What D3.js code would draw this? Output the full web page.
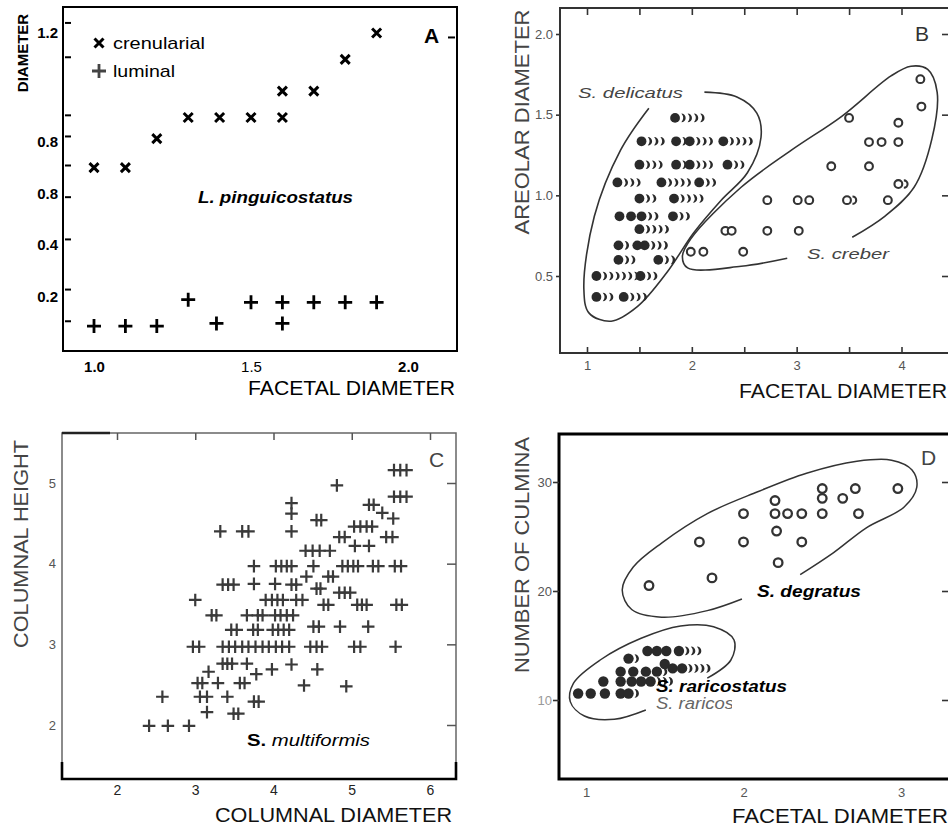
<!DOCTYPE html>
<html><head><meta charset="utf-8">
<script src="https://cdn.jsdelivr.net/npm/d3@7"></script>
<style>body{margin:0;background:#fff} svg{display:block}</style>
</head><body><svg id="c" width="948" height="829"></svg>
<script>
// ---------------- DATA ----------------
// Panel A  (L. pinguicostatus)
const aFacetal      = [1.0,1.1,1.2,1.3,1.4,1.5,1.6,1.6,1.7,1.8,1.9];
const aCrenularial  = [0.69,0.69,0.80,0.88,0.88,0.88,0.88,0.98,0.98,1.10,1.20];
const aLuminalX     = [1.0,1.1,1.2,1.3,1.39,1.5,1.6,1.6,1.7,1.8,1.9];
const aLuminal      = [0.09,0.09,0.09,0.19,0.10,0.18,0.18,0.10,0.18,0.18,0.18];
const aXTickValues  = [1.0,1.5,2.0];
const aXTickLabels  = ["1.0","1.5","2.0"];
const aYTickMarks   = [1.24,1.11,0.89,0.81,0.70,0.58,0.42,0.23,0.11];
const aYLabelValues = [1.2,0.79,0.59,0.4,0.2];
const aYLabels      = ["1.2","0.8","0.8","0.4","0.2"];

// Panel B  [facetal, areolar, trailing smear count]
const bDelicatus = [
  [1.84,1.48,4],
  [1.52,1.335,3],[1.85,1.335,1],[1.98,1.335,3],[2.30,1.335,4],
  [1.50,1.19,3],[1.85,1.19,1],[1.98,1.19,3],[2.34,1.19,2],
  [1.29,1.08,3],[1.71,1.08,4],[2.07,1.08,2],
  [1.50,0.98,2],[1.83,0.98,4],
  [1.31,0.87,0],[1.42,0.87,0],[1.52,0.87,2],[1.82,0.87,2],
  [1.50,0.79,4],
  [1.30,0.69,1],[1.48,0.69,0],[1.55,0.69,3],
  [1.30,0.60,2],[1.68,0.60,2],
  [1.09,0.50,6],[1.51,0.50,2],
  [1.09,0.37,2],[1.35,0.37,3]
];
const bCreber = [
  [1.99,0.65,0],[2.11,0.65,0],[2.49,0.65,0],
  [2.32,0.78,0],[2.38,0.78,0],[2.72,0.78,0],[3.02,0.78,0],
  [2.72,0.97,0],[3.01,0.97,0],[3.12,0.97,0],[3.48,0.97,1],[3.87,0.97,0],
  [3.97,1.07,1],[3.33,1.18,0],[3.69,1.18,0],
  [3.69,1.33,0],[3.81,1.33,0],[3.97,1.33,0],
  [3.97,1.45,0],[3.50,1.48,0],[4.19,1.55,0],[4.18,1.72,0]
];
const bDelicatusOutline = [[1.59,1.54],[1.32,1.28],[1.07,0.87],[0.97,0.42],[1.02,0.27],[1.23,0.22],[1.48,0.31],
  [1.76,0.52],[2.02,0.77],[2.28,0.97],[2.53,1.14],[2.66,1.36],[2.62,1.51],[2.43,1.61],[2.12,1.64]];
const bCreberOutline = [[2.91,0.61],[2.47,0.56],[1.96,0.55],[1.91,0.62],[1.99,0.73],[2.47,1.05],[2.95,1.28],
  [3.43,1.49],[3.90,1.74],[4.09,1.80],[4.25,1.78],[4.34,1.64],[4.29,1.35],[4.12,1.05],[3.84,0.87],[3.53,0.74]];
const bXTicks = [1,1.5,2,2.5,3,3.5,4];
const bXLabels = [1,2,3,4];
const bYTicks = [0.5,1.0,1.5,2.0];

// Panel C  [columnal diameter, columnal height]
const cMultiformis = [
  [5.54,5.16],[5.62,5.16],[5.70,5.16],[4.81,4.97],[5.54,4.83],[5.62,4.83],[5.70,4.83],
  [4.23,4.75],[5.22,4.73],[5.28,4.73],[4.23,4.62],[5.39,4.63],[5.53,4.56],[4.55,4.54],[4.61,4.54],
  [5.03,4.46],[5.11,4.46],[5.19,4.46],[5.26,4.46],
  [3.32,4.40],[3.60,4.40],[3.68,4.40],[4.23,4.40],
  [4.84,4.33],[4.91,4.33],[5.44,4.33],[5.52,4.33],[5.04,4.22],[5.22,4.22],
  [4.41,4.16],[4.50,4.16],[4.59,4.16],[4.72,4.16],
  [3.75,3.97],[4.03,3.97],[4.10,3.97],[4.17,3.97],[4.23,3.97],[4.51,3.97],[4.88,3.97],[4.95,3.97],
  [5.02,3.97],[5.08,3.97],[5.27,3.97],[5.34,3.97],[5.55,3.97],[5.63,3.97],
  [4.42,3.84],[4.70,3.84],[4.76,3.84],
  [3.35,3.74],[3.42,3.74],[3.49,3.74],[3.75,3.75],[4.02,3.75],[4.23,3.74],[4.29,3.74],
  [4.55,3.69],[4.60,3.69],[4.84,3.64],[4.91,3.64],[4.98,3.64],
  [3.00,3.55],[3.90,3.55],[3.98,3.55],[4.05,3.55],[4.12,3.55],[4.29,3.55],[4.37,3.55],
  [4.64,3.49],[4.70,3.49],[5.07,3.49],[5.13,3.49],[5.19,3.49],[5.57,3.49],[5.64,3.49],
  [3.21,3.36],[3.27,3.36],[3.66,3.36],[3.80,3.36],[3.86,3.36],[4.02,3.36],[4.09,3.36],[4.17,3.36],[4.25,3.36],
  [4.51,3.22],[4.58,3.22],[4.85,3.22],[5.21,3.22],
  [3.46,3.18],[3.53,3.18],[3.74,3.18],[3.80,3.18],[3.99,3.18],[4.06,3.18],[4.13,3.18],[4.20,3.18],
  [2.97,2.97],[3.05,2.97],[3.35,2.97],[3.43,2.97],[3.51,2.97],[3.60,2.97],[3.68,2.97],[3.77,2.97],
  [3.86,2.97],[3.94,2.97],[4.03,2.97],[4.11,2.97],[4.20,2.97],[4.47,2.97],[4.55,2.97],[4.62,2.97],
  [5.03,2.97],[5.11,2.97],[5.56,2.97],
  [3.35,2.76],[3.41,2.76],[3.47,2.76],[3.66,2.76],[4.23,2.75],[3.98,2.69],[4.56,2.69],[3.17,2.66],[3.78,2.63],
  [3.03,2.52],[3.09,2.52],[3.29,2.52],[3.57,2.52],[3.63,2.52],[4.39,2.49],[4.93,2.48],
  [2.58,2.35],[3.06,2.35],[3.15,2.35],[3.41,2.35],[3.75,2.29],[3.81,2.29],
  [3.15,2.16],[3.49,2.14],[3.55,2.14],
  [2.41,1.99],[2.65,1.99],[2.92,1.99]
];
const cXTicks = [2,3,4,5,6];
const cYTicks = [2,3,4,5];

// Panel D
const dDegratus = [
  [1.40,20.5],[1.72,24.5],[1.80,21.2],[2.00,27.1],[2.00,24.5],[2.20,28.3],[2.20,27.1],[2.28,27.1],
  [2.37,27.1],[2.21,25.5],[2.37,24.5],[2.22,22.6],[2.50,29.4],[2.50,28.5],[2.50,27.1],[2.63,28.5],
  [2.71,29.4],[2.73,27.1],[2.98,29.4]
];
const dRaricostatus = [
  [1.39,14.5,0],[1.45,14.5,0],[1.51,14.5,0],[1.59,14.5,3],
  [1.27,13.8,1],[1.50,13.3,0],[1.55,12.9,0],[1.61,12.9,4],
  [1.22,12.6,0],[1.30,12.6,0],[1.38,12.6,0],[1.45,12.6,1],
  [1.11,11.7,0],[1.22,11.7,0],[1.29,11.7,0],[1.35,11.7,0],[1.41,11.7,3],
  [0.95,10.6,0],[1.03,10.6,0],[1.12,10.6,0],[1.22,10.6,0],[1.27,10.6,1]
];
const dDegratusOutline = [[1.99,19.27],[1.77,18.2],[1.48,17.6],[1.29,18.3],[1.23,20.1],[1.30,22.2],[1.48,24.4],
  [1.77,27.1],[2.09,29.1],[2.40,30.8],[2.72,31.9],[2.94,32.0],[3.07,31.1],[3.10,29.5],[3.02,27.7],
  [2.78,25.8],[2.57,23.5],[2.36,21.5]];
const dRaricostatusOutline = [[1.38,9.08],[1.18,8.23],[0.99,8.53],[0.90,9.85],[0.92,11.53],[1.09,13.67],
  [1.35,15.66],[1.60,16.79],[1.81,16.72],[1.94,15.50],[1.92,13.67],[1.77,12.0]];
const dXTicks = [1,2,3];
const dYTicks = [10,20,30];

// ---------------- DRAWING ----------------
const FONT = '"Liberation Sans", Arial, Helvetica, sans-serif';
const svg = d3.select("#c");
svg.append("rect").attr("width",948).attr("height",829).attr("fill","#fff");

function txt(g, x, y, s, o = {}) {
  const t = g.append("text").attr("x", x).attr("y", y).text(s)
    .attr("font-family", FONT)
    .attr("font-size", o.size || 13).attr("fill", o.fill || "#000")
    .attr("font-weight", o.weight || "normal").attr("font-style", o.style || "normal")
    .attr("text-anchor", o.anchor || "start");
  if (o.len) t.attr("textLength", o.len).attr("lengthAdjust", "spacingAndGlyphs");
  if (o.rotate) t.attr("transform", `rotate(-90 ${x} ${y})`);
  return t;
}
function tickMarks(g, axisFn, scale, values, size, tx, ty, color, width) {
  const a = g.append("g").attr("transform", `translate(${tx},${ty})`)
    .call(axisFn(scale).tickValues(values).tickSize(size).tickFormat(""));
  a.select(".domain").remove();
  a.selectAll("line").attr("stroke", color).attr("stroke-width", width);
  return a;
}
function tickLabels(g, axisFn, scale, values, fmt, pad, tx, ty, o) {
  const a = g.append("g").attr("transform", `translate(${tx},${ty})`)
    .call(axisFn(scale).tickValues(values).tickSize(0).tickPadding(pad).tickFormat(fmt));
  a.select(".domain").remove();
  a.selectAll("line").remove();
  a.selectAll("text").attr("font-family", FONT).attr("font-size", o.size)
    .attr("fill", o.fill || "#000").attr("font-weight", o.weight || "normal");
  return a;
}
function crescentPath(c, cy, h) {
  const R = h * 1.55;
  return `M${c},${cy - h}A${h},${h} 0 0 1 ${c},${cy + h}A${R},${R} 0 0 0 ${c},${cy - h}Z`;
}
const outline = d3.line().curve(d3.curveCatmullRom.alpha(0.5));

// ===== Panel A =====
{
  const g = svg.append("g");
  const x = d3.scaleLinear().domain([1.0, 2.0]).range([94, 408]);
  const y = d3.scaleLinear().domain([0.2, 1.2]).range([297, 33]);
  g.append("rect").attr("x", 63).attr("y", 7).attr("width", 394).attr("height", 344)
    .attr("fill", "none").attr("stroke", "#000").attr("stroke-width", 2);
  tickMarks(g, d3.axisLeft, y, aYTickMarks, 6, 71, 0, "#000", 2);
  tickMarks(g, d3.axisLeft, y, [1.185], 7, 455, 0, "#000", 2);
  tickLabels(g, d3.axisLeft, y, aYLabelValues, (d, i) => aYLabels[i], 3, 61, 0, {size: 15, weight: "bold"});
  const xl = tickLabels(g, d3.axisBottom, x, aXTickValues, (d, i) => aXTickLabels[i], 10, 0, 351, {size: 15});
  xl.selectAll("text").attr("font-weight", (d, i) => i === 1 ? "normal" : "bold");
  txt(g, 455, 395, "FACETAL  DIAMETER", {size: 20, anchor: "end", len: 207});
  txt(g, 28, 53, "DIAMETER", {size: 15, weight: "bold", anchor: "middle", rotate: true});
  txt(g, 424, 43, "A", {size: 21, weight: "bold"});
  // legend
  const xMark = "M-4.5,-4.5L4.5,4.5M-4.5,4.5L4.5,-4.5";
  const pMark = "M-7,0H7M0,-7V7";
  g.append("path").attr("d", xMark).attr("transform", "translate(99,43)").attr("stroke", "#000").attr("stroke-width", 3);
  txt(g, 113, 49, "crenularial", {size: 17, len: 92});
  g.append("path").attr("d", pMark).attr("transform", "translate(99,71)").attr("stroke", "#444").attr("stroke-width", 2.8);
  txt(g, 113, 77, "luminal", {size: 17, len: 62});
  txt(g, 198, 203, "L. pinguicostatus", {size: 16, style: "italic", weight: "600", len: 155});
  g.selectAll(".cren").data(aFacetal).join("path").attr("class", "cren").attr("d", xMark)
    .attr("transform", (d, i) => `translate(${x(d)},${y(aCrenularial[i])})`)
    .attr("stroke", "#000").attr("stroke-width", 3).attr("fill", "none");
  g.selectAll(".lum").data(aLuminalX).join("path").attr("class", "lum").attr("d", pMark)
    .attr("transform", (d, i) => `translate(${x(d)},${y(aLuminal[i])})`)
    .attr("stroke", "#000").attr("stroke-width", 2.8).attr("fill", "none");
}

// ===== Panel B =====
{
  const g = svg.append("g");
  const x = d3.scaleLinear().domain([1, 4]).range([587, 901.5]);
  const y = d3.scaleLinear().domain([0.5, 2.0]).range([276, 34]);
  g.append("path").attr("d", "M948,8H560V353H948").attr("fill", "none").attr("stroke", "#333").attr("stroke-width", 2);
  tickMarks(g, d3.axisTop, x, bXTicks, 6, 0, 353, "#333", 1.6);
  tickMarks(g, d3.axisBottom, x, bXTicks, 7, 0, 8, "#333", 1.6);
  tickMarks(g, d3.axisLeft, y, bYTicks, 4, 560, 0, "#333", 1.6);
  tickMarks(g, d3.axisLeft, y, bYTicks, 6, 948, 0, "#333", 1.6);
  tickLabels(g, d3.axisBottom, x, bXLabels, d3.format("d"), 8, 0, 353, {size: 13, fill: "#555"});
  tickLabels(g, d3.axisLeft, y, bYTicks, d3.format(".1f"), 7, 560, 0, {size: 13, fill: "#555"});
  txt(g, 947, 398, "FACETAL  DIAMETER", {size: 20, anchor: "end", len: 208, fill: "#111"});
  txt(g, 529, 122, "AREOLAR  DIAMETER", {size: 20, anchor: "middle", rotate: true, len: 225, fill: "#444"});
  txt(g, 915, 41, "B", {size: 21, fill: "#333"});
  txt(g, 578, 98, "S. delicatus", {size: 15, style: "italic", fill: "#444", len: 105});
  txt(g, 807, 259, "S. creber", {size: 15, style: "italic", fill: "#444", len: 82});
  g.append("path").attr("d", outline(bDelicatusOutline.map(d => [x(d[0]), y(d[1])])))
    .attr("fill", "none").attr("stroke", "#333").attr("stroke-width", 1.6);
  g.append("path").attr("d", outline(bCreberOutline.map(d => [x(d[0]), y(d[1])])))
    .attr("fill", "none").attr("stroke", "#333").attr("stroke-width", 1.6);
  // delicatus filled dots with smear crescents
  bDelicatus.forEach(d => {
    const cx = x(d[0]), cy = y(d[1]);
    for (let k = 1; k <= d[2]; k++) {
      g.append("path").attr("d", crescentPath(cx + k * 6.3, cy, 4.3)).attr("fill", "#2a2a2a");
    }
  });
  g.selectAll(".del").data(bDelicatus).join("circle").attr("class", "del")
    .attr("cx", d => x(d[0])).attr("cy", d => y(d[1])).attr("r", 4.9).attr("fill", "#2a2a2a");
  g.selectAll(".cre").data(bCreber).join("circle").attr("class", "cre")
    .attr("cx", d => x(d[0])).attr("cy", d => y(d[1])).attr("r", 3.9)
    .attr("fill", "#fff").attr("stroke", "#333").attr("stroke-width", 2.1);
  bCreber.filter(d => d[2] > 0).forEach(d => {
    const c = x(d[0]) + 5.5, cy = y(d[1]);
    g.append("path").attr("d", `M${c},${cy - 3.7}A3.7,3.7 0 0 1 ${c},${cy + 3.7}`)
      .attr("fill", "none").attr("stroke", "#333").attr("stroke-width", 2.1);
  });
}

// ===== Panel C =====
{
  const g = svg.append("g");
  const x = d3.scaleLinear().domain([2, 6]).range([117, 430]);
  const y = d3.scaleLinear().domain([2, 5]).range([725, 483]);
  g.append("path").attr("d", "M62,762V433H456V762").attr("fill", "none").attr("stroke", "#666").attr("stroke-width", 1.5);
  g.append("path").attr("d", "M62,433H110").attr("stroke", "#222").attr("stroke-width", 2.5);
  g.append("path").attr("d", "M62,762V779H456V762").attr("fill", "none").attr("stroke", "#000").attr("stroke-width", 2.6);
  tickMarks(g, d3.axisBottom, x, cXTicks, 7, 0, 433, "#555", 1.5);
  tickMarks(g, d3.axisLeft, y, cYTicks, 9, 456, 0, "#555", 1.5);
  tickLabels(g, d3.axisBottom, x, cXTicks, d3.format("d"), 6, 0, 779, {size: 14, fill: "#222"});
  tickLabels(g, d3.axisLeft, y, cYTicks, d3.format("d"), 6, 62, 0, {size: 13, fill: "#555"});
  txt(g, 452, 822, "COLUMNAL  DIAMETER", {size: 20, anchor: "end", len: 237, fill: "#111"});
  txt(g, 28, 544, "COLUMNAL  HEIGHT", {size: 20, anchor: "middle", rotate: true, len: 208, fill: "#444"});
  txt(g, 429, 467, "C", {size: 21, fill: "#444"});
  const t = txt(g, 247, 746, "", {size: 16});
  t.append("tspan").attr("font-weight", "bold").text("S.");
  t.append("tspan").attr("font-style", "italic").text(" multiformis");
  t.attr("textLength", 123).attr("lengthAdjust", "spacingAndGlyphs");
  g.selectAll(".mf").data(cMultiformis).join("path").attr("class", "mf")
    .attr("d", "M-6.3,0H6.3M0,-6.3V6.3")
    .attr("transform", d => `translate(${x(d[0])},${y(d[1])})`)
    .attr("stroke", "#3a3a3a").attr("stroke-width", 2.2).attr("fill", "none");
}

// ===== Panel D =====
{
  const g = svg.append("g");
  const x = d3.scaleLinear().domain([1, 3]).range([586, 901]);
  const y = d3.scaleLinear().domain([10, 30]).range([700, 482]);
  g.append("path").attr("d", "M948,434H559V779H948").attr("fill", "none").attr("stroke", "#000").attr("stroke-width", 3);
  tickMarks(g, d3.axisLeft, y, dYTicks, 6, 559, 0, "#333", 1.6);
  tickMarks(g, d3.axisLeft, y, dYTicks, 6, 948, 0, "#333", 1.6);
  const yl = tickLabels(g, d3.axisLeft, y, dYTicks, d3.format("d"), 7, 559, 0, {size: 13, fill: "#555"});
  yl.selectAll("text").attr("fill", d => d === 10 ? "#999" : "#555");
  tickLabels(g, d3.axisBottom, x, dXTicks, d3.format("d"), 9, 0, 779, {size: 13, fill: "#555"});
  txt(g, 948, 823, "FACETAL  DIAMETER", {size: 20, anchor: "end", len: 216, fill: "#111"});
  txt(g, 529, 555, "NUMBER OF CULMINA", {size: 20, anchor: "middle", rotate: true, len: 236, fill: "#444"});
  txt(g, 921, 465, "D", {size: 21, fill: "#444"});
  g.append("path").attr("d", outline(dDegratusOutline.map(d => [x(d[0]), y(d[1])])))
    .attr("fill", "none").attr("stroke", "#333").attr("stroke-width", 1.5);
  g.append("path").attr("d", outline(dRaricostatusOutline.map(d => [x(d[0]), y(d[1])])))
    .attr("fill", "none").attr("stroke", "#333").attr("stroke-width", 1.5);
  g.selectAll(".deg").data(dDegratus).join("circle").attr("class", "deg")
    .attr("cx", d => x(d[0])).attr("cy", d => y(d[1])).attr("r", 4.3)
    .attr("fill", "#fff").attr("stroke", "#333").attr("stroke-width", 2.3);
  dRaricostatus.forEach(d => {
    const cx = x(d[0]), cy = y(d[1]);
    for (let k = 1; k <= d[2]; k++) {
      g.append("path").attr("d", crescentPath(cx + k * 6, cy, 4.4)).attr("fill", "#2a2a2a");
    }
  });
  g.selectAll(".rar").data(dRaricostatus).join("circle").attr("class", "rar")
    .attr("cx", d => x(d[0])).attr("cy", d => y(d[1])).attr("r", 5.2).attr("fill", "#2a2a2a");
  txt(g, 757, 597, "S. degratus", {size: 17, style: "italic", weight: "bold", len: 104});
  // faded duplicate label, cut off
  svg.append("clipPath").attr("id", "clipRar").append("rect").attr("x", 650).attr("y", 690).attr("width", 82).attr("height", 30);
  txt(g, 656, 709, "S. raricostatus", {size: 16, style: "italic", fill: "#666", len: 118}).attr("clip-path", "url(#clipRar)");
  txt(g, 656, 692, "S. raricostatus", {size: 17, style: "italic", weight: "bold", len: 131});
}
</script>
</body></html>
